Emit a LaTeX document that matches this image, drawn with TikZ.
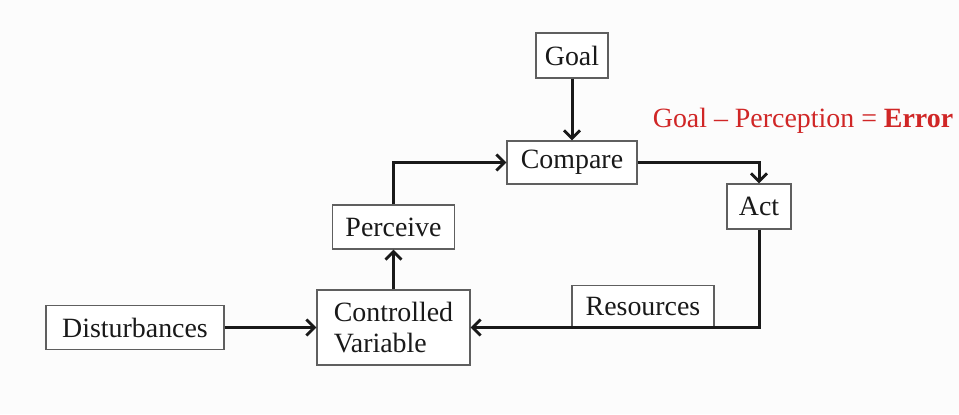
\documentclass[tikz,border=0pt]{standalone}
\usepackage{fontspec}
\setmainfont{Liberation Serif}
\usetikzlibrary{arrows.meta}
\definecolor{errred}{RGB}{208,38,38}
\definecolor{boxgray}{RGB}{95,95,95}
\definecolor{bg}{RGB}{252,252,252}
\tikzset{
  x=1bp, y=-1bp,
  blk/.style={draw=boxgray, line width=1.4bp, fill=white, inner sep=0pt, font=\fontsize{28}{32}\selectfont, text=black!90},
  conn/.style={line width=3bp, black!90, -{Straight Barb[length=8bp,width=16bp,line width=2.8bp]}},
}
\begin{document}
\begin{tikzpicture}
\fill[bg] (0,0) rectangle (959,414);
\useasboundingbox (0,0) rectangle (959,414);
\node[blk, minimum width=72bp, minimum height=45bp] (goal) at (572,55.5) {Goal};
\node[blk, minimum width=130bp, minimum height=43bp] (compare) at (572,162.5) {Compare};
\node[blk, minimum width=64bp, minimum height=45bp] (act) at (759,206.5) {Act};
\node[blk, minimum width=122bp, minimum height=44bp] (perceive) at (393.5,227) {Perceive};
\node[blk, minimum width=153bp, minimum height=75bp, align=left] (cv) at (393.5,327.5) {Controlled\\Variable};
\node[blk, minimum width=178bp, minimum height=44bp] (dist) at (135,327.5) {Disturbances};
\node[blk, minimum width=142bp, minimum height=42bp] (res) at (643,306.5) {Resources};
\node[font=\fontsize{28}{32}\selectfont, text=errred, inner sep=0pt] (err) at (803,121) {Goal – Perception = \textbf{Error}};
\draw[conn] (goal.south) -- (compare.north);
\draw[conn] (compare.east) -| (act.north);
\draw[conn] (perceive.north) |- (compare.west);
\draw[conn] (cv.north) -- (perceive.south);
\draw[conn] (dist.east) -- (cv.west);
\draw[conn] (act.south) |- (cv.east);
\end{tikzpicture}
\end{document}
